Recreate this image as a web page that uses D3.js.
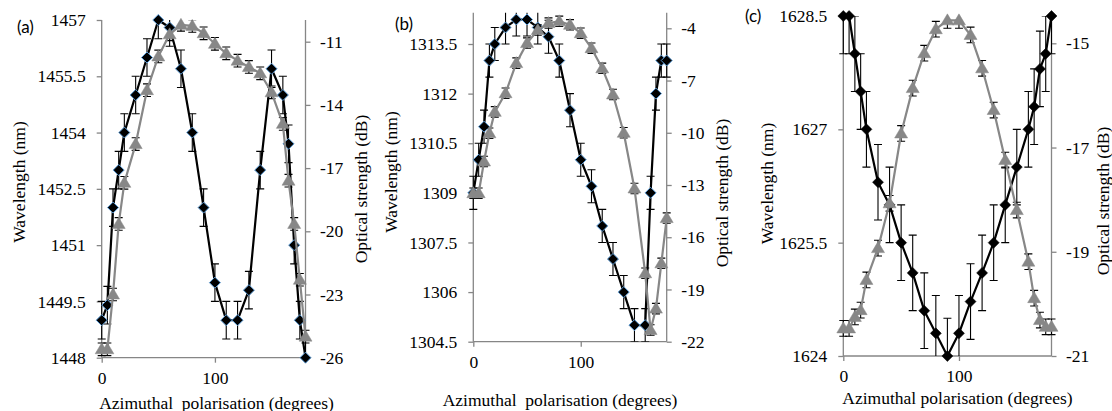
<!DOCTYPE html>
<html><head><meta charset="utf-8">
<script src="https://cdn.jsdelivr.net/npm/d3@7"></script>
</head><body style="margin:0;background:#fff">
<svg id="chart" width="1112" height="411" style="display:block"></svg>
<script>
// ---- data ----
const angles = [0,5,10,15,20,30,40,50,60,70,80,90,100,110,120,130,140,150,160,165,170,175,180];

const waveA  = [1449.0,1449.4,1452.0,1453.0,1454.0,1455.0,1456.0,1457.0,1456.8,1455.7,1454.0,1452.0,1450.0,1449.0,1449.0,1449.8,1453.0,1455.7,1455.0,1453.7,1451.0,1449.0,1448.0];
const powerA = [-25.6,-25.6,-23.0,-19.65,-17.7,-15.86,-13.3,-11.7,-10.65,-10.2,-10.25,-10.6,-11.1,-11.55,-11.9,-12.2,-12.5,-13.4,-14.9,-17.6,-19.65,-22.3,-25.0];

const waveB  = [1309.0,1310.0,1311.0,1313.0,1313.5,1314.0,1314.24,1314.24,1314.0,1313.72,1313.0,1311.5,1310.0,1309.2,1308.0,1307.0,1306.0,1305.0,1305.0,1309.0,1312.0,1313.0,1313.0];
const powerB = [-13.47,-13.47,-11.65,-10.03,-8.8,-7.73,-6.0,-4.85,-4.1,-3.7,-3.6,-3.8,-4.28,-5.14,-6.3,-7.8,-10.0,-13.2,-18.07,-21.33,-20.1,-17.5,-14.9];

const waveC  = [1628.5,1628.5,1628.0,1627.5,1627.0,1626.3,1626.0,1625.5,1625.1,1624.6,1624.3,1624.0,1624.3,1624.72,1625.1,1625.5,1626.0,1626.5,1627.0,1627.3,1627.8,1628.0,1628.5];
const powerC = [-20.47,-20.47,-20.25,-20.12,-19.54,-18.93,-18.07,-16.73,-15.86,-15.19,-14.73,-14.56,-14.56,-14.84,-15.48,-16.28,-17.24,-18.2,-19.19,-19.89,-20.31,-20.44,-20.44];

const waveErrA = 0.5, powerErrA = 0.3;
const waveErrB = 0.5, powerErrB = 0.3;
const waveErrC = 0.5, powerErrC = 0.15;

const xTicks = [0,100];
const leftTicksA  = [1448,1449.5,1451,1452.5,1454,1455.5,1457];
const rightTicksA = [-26,-23,-20,-17,-14,-11];
const leftTicksB  = [1304.5,1306,1307.5,1309,1310.5,1312,1313.5];
const rightTicksB = [-22,-19,-16,-13,-10,-7,-4];
const leftTicksC  = [1624,1625.5,1627,1628.5];
const rightTicksC = [-21,-19,-17,-15];

const xTitleA = "Azimuthal\u00a0 polarisation (degrees)";
const xTitleB = "Azimuthal\u00a0 polarisation (degrees)";
const xTitleC = "Azimuthal polarisation (degrees)";
const yTitleLeft = "Wavelength (nm)";
const yTitleRight = "Optical strength (dB)";

// ---- layout ----
const panels = [
  {label:"(a)", wave:waveA, power:powerA, wErr:waveErrA, pErr:powerErrA, lT:leftTicksA, rT:rightTicksA, xTitle:xTitleA,
   x0:101.7, x1:305.5, top:20, bottom:357.7, lTop:20, rTop:41.7, blue:true,
   lab:[17,27], ylt:[19,182], yrt:[360.5,189], xt:[216.5,403]},
  {label:"(b)", wave:waveB, power:powerB, wErr:waveErrB, pErr:powerErrB, lT:leftTicksB, rT:rightTicksB, xTitle:xTitleB,
   x0:473.3, x1:666.7, top:12.7, bottom:341.7, lTop:44, rTop:28.3, blue:true,
   lab:[395,24], ylt:[390.7,172], yrt:[721.7,193], xt:[560,400]},
  {label:"(c)", wave:waveC, power:powerC, wErr:waveErrC, pErr:powerErrC, lT:leftTicksC, rT:rightTicksC, xTitle:xTitleC,
   x0:843.3, x1:1051.5, top:16, bottom:356, lTop:16, rTop:43.3, blue:false,
   lab:[745,16], ylt:[766.7,183.5], yrt:[1102.5,201], xt:[957.5,398]}
];

const SERIF = "Liberation Serif";
const FS = 17.5;
const svg = d3.select("#chart");
const axisCol = "#868686";
const grayCol = "#878787";
const diamond = "M0,-5.5L5.5,0L0,5.5L-5.5,0Z";
const tri = "M0,-6.5L6.5,4.5L-6.5,4.5Z";

panels.forEach((p,i) => {
  const g = svg.append("g");
  const x = d3.scaleLinear().domain([0,180]).range([p.x0,p.x1]);
  const yL = d3.scaleLinear().domain([p.lT[0], p.lT[p.lT.length-1]]).range([p.bottom,p.lTop]);
  const yR = d3.scaleLinear().domain([p.rT[0], p.rT[p.rT.length-1]]).range([p.bottom,p.rTop]);

  const clipId = "clip"+i;
  svg.append("clipPath").attr("id",clipId).append("rect")
    .attr("x",p.x0-20).attr("y",p.top).attr("width",p.x1-p.x0+40).attr("height",p.bottom-p.top);

  // axis lines
  g.append("line").attr("x1",p.x0).attr("x2",p.x0).attr("y1",p.top).attr("y2",p.bottom).attr("stroke",axisCol).attr("stroke-width",1.3);
  g.append("line").attr("x1",p.x1).attr("x2",p.x1).attr("y1",p.top).attr("y2",p.bottom).attr("stroke",axisCol).attr("stroke-width",1.3);
  g.append("line").attr("x1",p.x0).attr("x2",p.x1).attr("y1",p.bottom).attr("y2",p.bottom).attr("stroke",axisCol).attr("stroke-width",1.3);

  const styleAxis = sel => {
    sel.attr("font-family",SERIF).attr("font-size",FS);
    sel.select(".domain").remove();
    sel.selectAll(".tick line").attr("stroke",axisCol).attr("stroke-width",1.3);
    sel.selectAll(".tick text").attr("fill","#000").attr("font-family",SERIF).attr("font-size",FS);
  };
  g.append("g").attr("transform",`translate(${p.x0},0)`)
    .call(d3.axisLeft(yL).tickValues(p.lT).tickFormat(String).tickSize(5).tickPadding(11))
    .call(styleAxis);
  g.append("g").attr("transform",`translate(${p.x1},0)`)
    .call(d3.axisRight(yR).tickValues(p.rT).tickFormat(String).tickSize(5).tickPadding(9.5))
    .call(styleAxis);
  g.append("g").attr("transform",`translate(0,${p.bottom})`)
    .call(d3.axisBottom(x).tickValues(xTicks).tickFormat(String).tickSize(5).tickPadding(9))
    .call(styleAxis);

  // titles
  g.append("text").attr("x",p.lab[0]).attr("y",p.lab[1]).attr("dy","0.35em")
    .attr("font-family","Lato").attr("font-size",17).text(p.label);
  g.append("text").attr("transform",`translate(${p.ylt[0]},${p.ylt[1]}) rotate(-90)`)
    .attr("font-family",SERIF).attr("font-size",FS)
    .attr("text-anchor","middle").attr("dy","0.35em").text(yTitleLeft);
  g.append("text").attr("transform",`translate(${p.yrt[0]},${p.yrt[1]}) rotate(-90)`)
    .attr("font-family",SERIF).attr("font-size",FS)
    .attr("text-anchor","middle").attr("dy","0.35em").text(yTitleRight);
  g.append("text").attr("x",p.xt[0]).attr("y",p.xt[1]).attr("text-anchor","middle").attr("dy","0.35em")
    .attr("font-family",SERIF).attr("font-size",FS).text(p.xTitle);

  const series = [
    {vals:p.wave, y:yL, err:p.wErr, col:"#000", shape:diamond, stroke:p.blue?"#5b9bd5":"#000", sw:p.blue?1:0.5},
    {vals:p.power, y:yR, err:p.pErr, col:grayCol, shape:tri, stroke:grayCol, sw:0.5}
  ];
  series.forEach(s => {
    const pts = angles.map((a,k)=>({a, v:s.vals[k]}));
    const eb = g.append("g").attr("clip-path",`url(#${clipId})`).attr("stroke","#000").attr("stroke-width",1.1);
    pts.forEach(d => {
      const cx = x(d.a), yt = s.y(d.v + s.err), yb = s.y(d.v - s.err);
      eb.append("line").attr("x1",cx).attr("x2",cx).attr("y1",yt).attr("y2",yb);
      eb.append("line").attr("x1",cx-4).attr("x2",cx+4).attr("y1",yt).attr("y2",yt);
      eb.append("line").attr("x1",cx-4).attr("x2",cx+4).attr("y1",yb).attr("y2",yb);
    });
    g.append("path").datum(pts)
      .attr("d", d3.line().x(d=>x(d.a)).y(d=>s.y(d.v)))
      .attr("fill","none").attr("stroke",s.col).attr("stroke-width",2.2).attr("stroke-linejoin","round");
    g.selectAll(null).data(pts).enter().append("path")
      .attr("d",s.shape).attr("transform",d=>`translate(${x(d.a)},${s.y(d.v)})`)
      .attr("fill",s.col).attr("stroke",s.stroke).attr("stroke-width",s.sw);
  });
});
</script>
</body></html>
